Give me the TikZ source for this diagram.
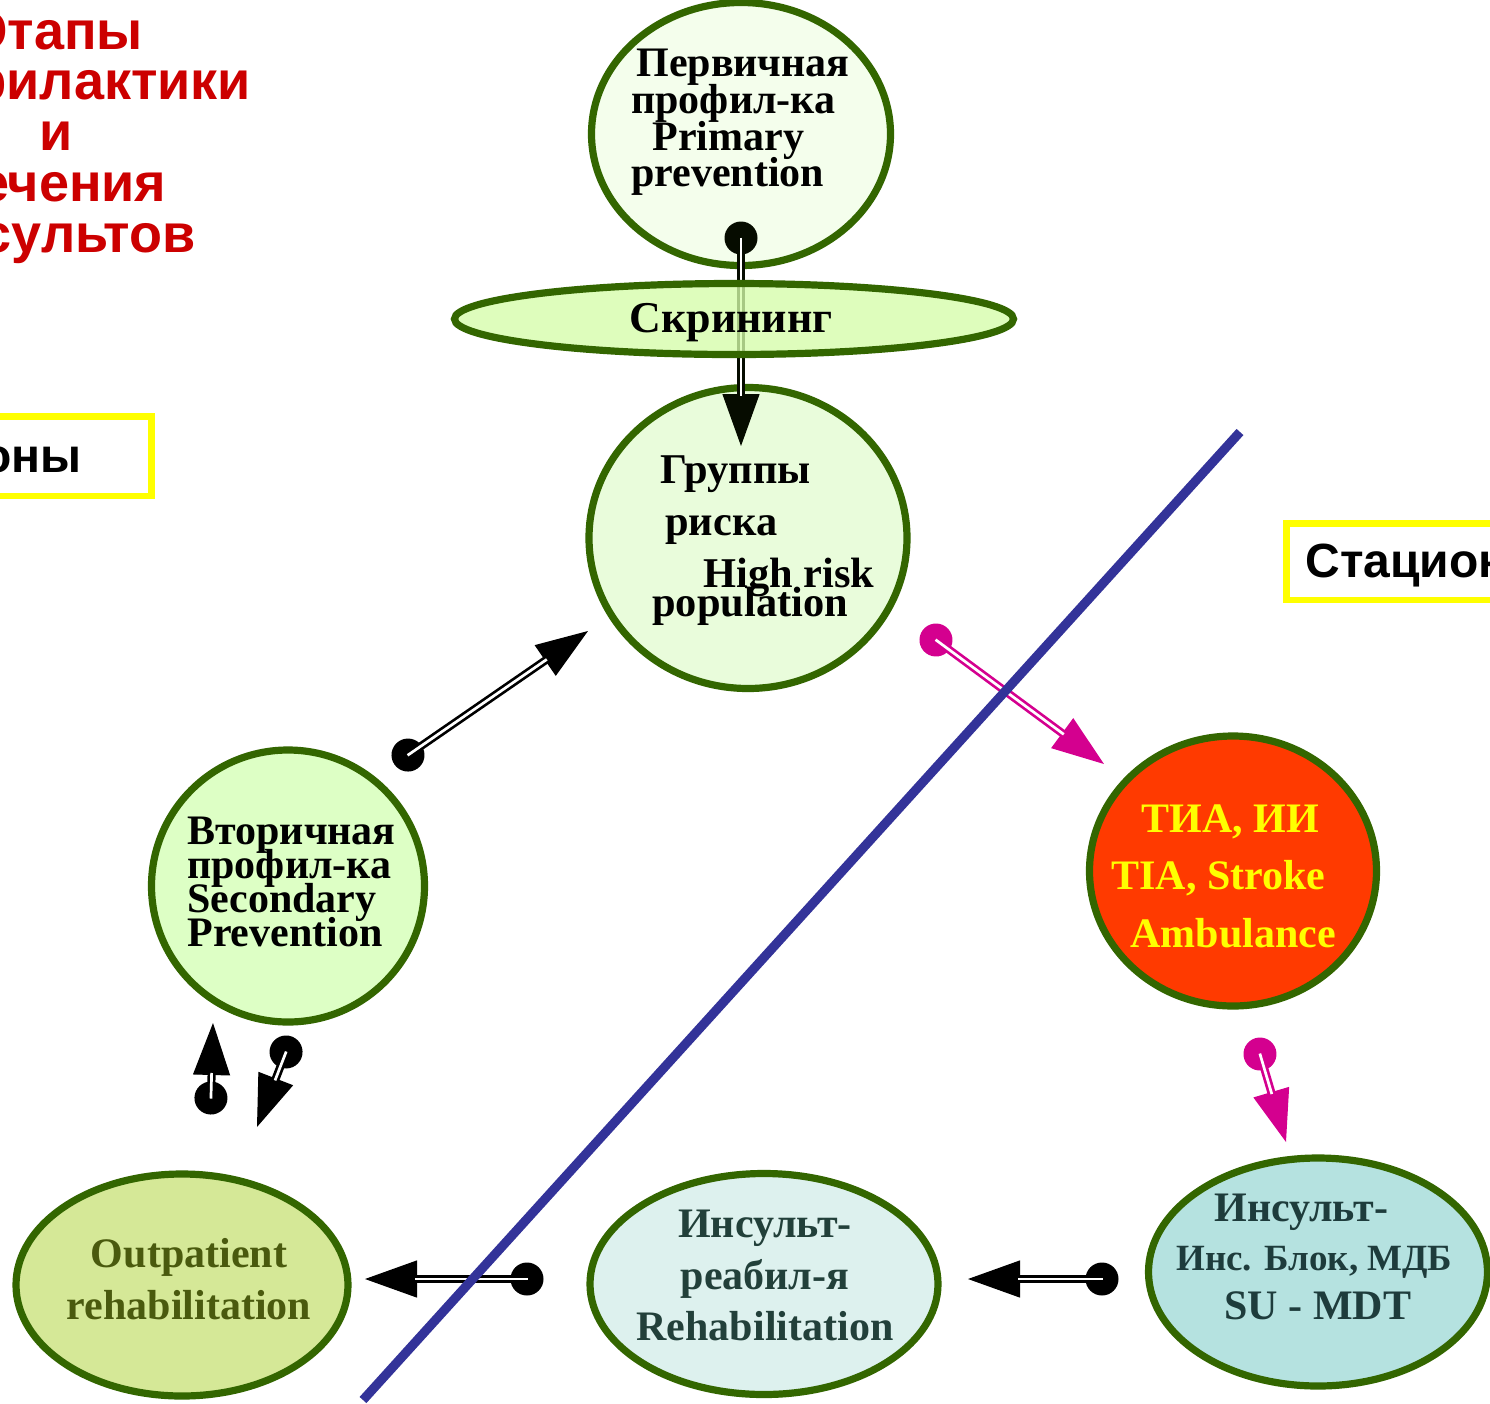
\documentclass[tikz,border=0pt]{standalone}
\usepackage{fontspec}
\setmainfont{Liberation Serif}
\newfontfamily\headfont{Liberation Sans}
\usetikzlibrary{arrows.meta,shapes.geometric}
\setlength{\lineskiplimit}{-100pt}

\definecolor{rim}{HTML}{336600}
\definecolor{primfill}{HTML}{F4FEEC}
\definecolor{scrfill}{HTML}{D5FDA9}
\definecolor{riskfill}{HTML}{E9FCDB}
\definecolor{secfill}{HTML}{DDFFC5}
\definecolor{tiafill}{HTML}{FF3A00}
\definecolor{outfill}{HTML}{D5E897}
\definecolor{outtext}{HTML}{4A5A0E}
\definecolor{rehfill}{HTML}{DDF1EE}
\definecolor{rehtext}{HTML}{22403A}
\definecolor{sufill}{HTML}{B5E2E0}
\definecolor{sutext}{HTML}{1E3C3C}
\definecolor{divblue}{HTML}{333399}
\definecolor{pink}{HTML}{D4008F}
\definecolor{titlered}{HTML}{CC0000}
\definecolor{zoneyellow}{HTML}{FFFF00}

\tikzset{
  stage/.style={ellipse, draw=rim, line width=3.6pt, inner sep=0pt},
  sz/.style 2 args={minimum width=#1*0.5pt, minimum height=#2*0.5pt},
  label/.style={inner sep=0pt, font=\bfseries\fontsize{21}{#1}\selectfont},
  link/.style={draw=#1, line width=0.6pt,
    {Circle[length=16.5pt]}-{Triangle[length=26pt,width=18.5pt]},
    postaction={draw=#1, arrows=-, double=white, line width=1.35pt,
      double distance=1.35pt, shorten >=25pt, shorten <=8pt}},
  zoneline/.style={draw=zoneyellow, line width=3.4pt},
  zonetext/.style={inner sep=0pt, font=\headfont\bfseries\fontsize{24}{28}\selectfont},
}

\begin{document}
\begin{tikzpicture}[x=0.5pt, y=-0.5pt]
\useasboundingbox (0,0) rectangle (1490,1404);

% title
\node[inner sep=0pt, anchor=north, align=center, text=titlered,
  font=\headfont\bfseries\fontsize{27}{25.4}\selectfont] (title) at (56,11)
  {Этапы\\профилактики\\и\\лечения\\инсультов};

% care settings
\draw[zoneline] (-100,416.5) rectangle (151.5,496);
\node[zonetext, anchor=base east] (zoneleft) at (82,472) {Регионы};
\draw[zoneline] (1286.5,523.5) rectangle (1700,600);
\node[zonetext, anchor=base west] (zoneright) at (1305,577) {Стационар};

% stages
\node[stage, fill=primfill, sz={299}{263}] (prim) at (741,134) {};
\node[label=18.3pt, anchor=north west, align=left] (primtext) at (631,49)
  {\hspace*{2.5pt}Первичная\\профил-ка\\\hspace*{10.5pt}Primary\\prevention};

\node[stage, fill=riskfill, sz={318}{301}] (risk) at (748,538) {};
\node[label=26pt, anchor=north west, align=left, font=\bfseries\fontsize{21.2}{26}\selectfont] (risktext) at (652,455.5)
  {\hspace*{4pt}Группы\\\hspace*{6.5pt}риска\\\hspace*{25.5pt}High risk\\[-11.5pt]population};

\node[stage, fill=secfill, sz={273}{272}] (sec) at (288,886) {};
\node[label=16.9pt, anchor=north west, align=left] (sectext) at (187,817)
  {Вторичная\\профил-ка\\Secondary\\Prevention};

\node[stage, fill=tiafill, sz={287}{270}] (tia) at (1233,871) {};
\node[label=28.75pt, anchor=west, align=left, text=zoneyellow] (tiatext) at (1111,876)
  {\hspace*{15pt}ТИА, ИИ\\TIA, Stroke\\\hspace*{9.5pt}Ambulance};

\node[stage, fill=outfill, sz={332}{222}] (outp) at (182,1285) {};
\node[label=26pt, align=center, text=outtext] (outtext) at (189,1279)
  {Outpatient\\rehabilitation};

\node[stage, fill=rehfill, sz={348}{221}] (reh) at (764,1284) {};
\node[label=25.75pt, align=center, text=rehtext] (rehtext) at (765,1275.5)
  {Инсульт-\\реабил-я\\Rehabilitation};

\node[stage, fill=sufill, sz={339}{228}] (su) at (1318,1272) {};
\node[label=24.5pt, anchor=west, align=left, text=sutext] (sutext) at (1176,1257)
  {\hspace*{19pt}Инсульт-\\{\fontsize{18.5}{24.5}\selectfont Инс. Блок, МДБ}\\\hspace*{24pt}SU - MDT};

% connector ends
\coordinate (p1) at (741,221.5);   \coordinate (q1) at (741,446);
\coordinate (p2) at (394.4,764.4); \coordinate (q2) at (588,631);
\coordinate (p3) at (210.5,1114.5);\coordinate (q3) at (213,1023);
\coordinate (p4) at (292,1036.6);  \coordinate (q4) at (257,1127);
\coordinate (p5) at (543.5,1279);  \coordinate (q5) at (365,1279);
\coordinate (p6) at (1118.5,1279); \coordinate (q6) at (968,1279);
\coordinate (p7) at (922.7,630.2); \coordinate (q7) at (1104,764);
\coordinate (p8) at (1255.3,1038.2);\coordinate (q8) at (1286,1142);

% screening: primary prevention to risk groups
\draw[link=black!88!rim] (p1) -- (q1);
\node[stage, fill=scrfill, fill opacity=0.78, text opacity=1, sz={559}{71}] (scr) at (734,319) {};
\node[inner sep=0pt, font=\bfseries\fontsize{22}{26}\selectfont] (scrtext) at (731,323) {Скрининг};

% pathway arrows
\draw[link=black] (p2) -- (q2);
\draw[link=black] (p3) -- (q3);
\draw[link=black] (p4) -- (q4);
\draw[link=black] (p5) -- (q5);
\draw[link=black] (p6) -- (q6);
\draw[link=pink] (p7) -- (q7);
\draw[link=pink] (p8) -- (q8);

% boundary between outpatient and inpatient care
\coordinate (divtop) at (1240,432);
\coordinate (divbot) at (363,1400);
\draw[divblue, line width=4.6pt] (divtop) -- (divbot);
\end{tikzpicture}
\end{document}
